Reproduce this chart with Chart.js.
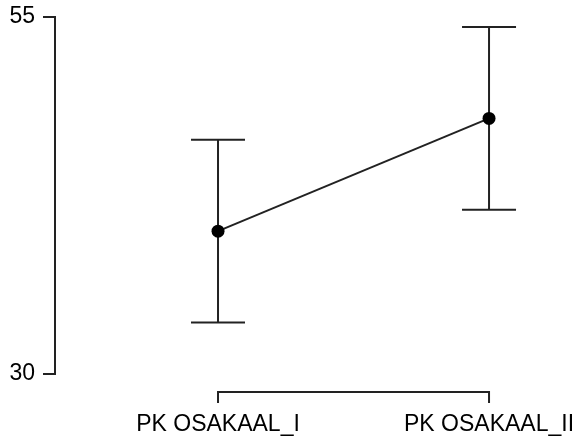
<!DOCTYPE html>
<html>
<head>
<meta charset="utf-8">
<script src="https://cdn.jsdelivr.net/npm/chart.js@4/dist/chart.umd.min.js"></script>
<style>
  html, body { margin: 0; padding: 0; background: #fff; }
  #wrap { width: 576px; height: 436px; }
</style>
</head>
<body>
<div id="wrap"><canvas id="grafico" width="576" height="436"></canvas></div>
<script>
// Datos (media con su intervalo)
const categorias = ['PK OSAKAAL_I', 'PK OSAKAAL_II'];
const medias = [40.0, 47.9];
const limiteInf = [33.6, 41.5];
const limiteSup = [46.4, 54.3];
const ticksY = [30, 55];

const COLOR_LINEA = '#222';
const FUENTE = "'Liberation Sans', Arial, sans-serif";

// Barras de error: se dibujan antes de los puntos, así el punto queda arriba
const barrasError = {
    id: 'barrasError',
    beforeDatasetsDraw(chart) {
        const ctx = chart.ctx;
        const x = chart.scales.x, y = chart.scales.y;
        ctx.save();
        ctx.strokeStyle = COLOR_LINEA;
        ctx.lineWidth = 2;
        medias.forEach((m, i) => {
            const px = x.getPixelForValue(i);
            const arriba = y.getPixelForValue(limiteSup[i]);
            const abajo = y.getPixelForValue(limiteInf[i]);
            ctx.beginPath();
            ctx.moveTo(px, arriba); ctx.lineTo(px, abajo);
            ctx.moveTo(px - 27, arriba); ctx.lineTo(px + 27, arriba);
            ctx.moveTo(px - 27, abajo); ctx.lineTo(px + 27, abajo);
            ctx.stroke();
        });
        ctx.restore();
    }
};

// Eje X tipo "range frame": solo entre la primera y la última categoría
const ejeXCorto = {
    id: 'ejeXCorto',
    afterDraw(chart) {
        const ctx = chart.ctx;
        const x = chart.scales.x;
        const yLinea = chart.chartArea.bottom + 18;
        const x0 = x.getPixelForValue(0);
        const x1 = x.getPixelForValue(categorias.length - 1);
        ctx.save();
        ctx.strokeStyle = COLOR_LINEA;
        ctx.lineWidth = 2;
        ctx.beginPath();
        ctx.moveTo(x0, yLinea + 11); ctx.lineTo(x0, yLinea);
        ctx.lineTo(x1, yLinea); ctx.lineTo(x1, yLinea + 11);
        ctx.stroke();
        ctx.restore();
    }
};

new Chart(document.getElementById('grafico'), {
    type: 'line',
    data: {
        datasets: [{
            data: medias.map((m, i) => ({ x: i, y: m })),
            borderColor: COLOR_LINEA,
            borderWidth: 2,
            pointRadius: 6.5,
            pointBackgroundColor: '#000',
            pointBorderColor: '#000',
            pointBorderWidth: 0,
            tension: 0
        }]
    },
    options: {
        responsive: false,
        animation: false,
        layout: { padding: { top: 17, right: 10, left: 0, bottom: 0 } },
        plugins: { legend: { display: false }, tooltip: { enabled: false } },
        scales: {
            x: {
                type: 'linear',
                min: -0.6015,
                max: 1.284,
                afterBuildTicks: (s) => { s.ticks = categorias.map((c, i) => ({ value: i })); },
                afterFit: (s) => { s.height = 62; s.paddingLeft = 0; s.paddingRight = 0; },
                ticks: {
                    autoSkip: false, maxRotation: 0, padding: 0,
                    color: '#000', font: { family: FUENTE, size: 23 },
                    callback: (v) => categorias[v]
                },
                grid: { display: true, drawOnChartArea: false, drawTicks: true, tickLength: 37, color: 'rgba(0,0,0,0)' },
                border: { display: false }
            },
            y: {
                min: 30,
                max: 55,
                afterBuildTicks: (s) => { s.ticks = ticksY.map(v => ({ value: v })); },
                afterFit: (s) => { s.width = 55; s.paddingTop = 0; s.paddingBottom = 0; },
                ticks: { padding: 8, color: '#000', font: { family: FUENTE, size: 23 } },
                grid: { display: true, drawOnChartArea: false, drawTicks: true, tickLength: 12, color: COLOR_LINEA, lineWidth: 2 },
                border: { display: true, color: COLOR_LINEA, width: 2 }
            }
        }
    },
    plugins: [barrasError, ejeXCorto]
});
</script>
</body>
</html>
